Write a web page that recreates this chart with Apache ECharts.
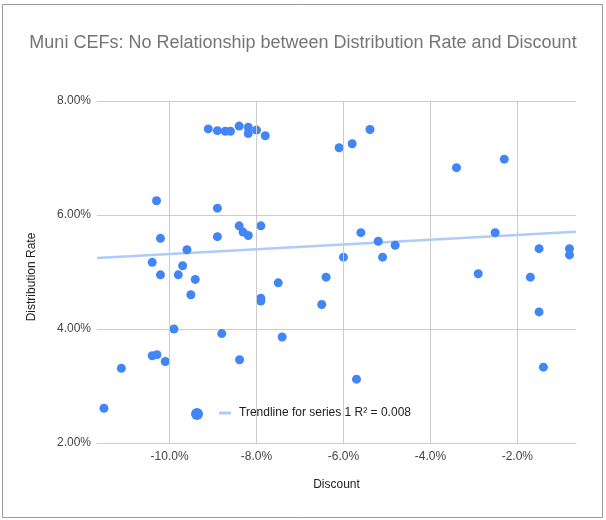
<!DOCTYPE html>
<html><head><meta charset="utf-8">
<script src="https://cdn.jsdelivr.net/npm/echarts@6/dist/echarts.min.js"></script>
<style>html,body{margin:0;padding:0;background:#fff}#c{width:606px;height:520px}</style>
</head><body><div id="c"></div>
<script>
// Discount (%), Distribution Rate (%)
const discount = [
  -9.11, -8.90, -8.72, -8.60, -8.40, -8.19, -8.19, -8.00, -7.80, -6.10, -5.80, -5.39, -3.40, -2.30,
  -10.30, -8.90, -8.40, -8.31, -8.19, -7.90, -10.21, -8.90, -9.60, -10.40, -9.70, -6.00, -5.60, -5.20,
  -4.81, -5.10, -2.51, -1.50, -0.80, -0.80,
  -10.21, -9.80, -9.41, -9.51, -7.50, -6.40, -7.90, -7.90, -6.50, -2.90, -1.70, -1.50, -9.90, -8.80,
  -7.41, -10.40, -10.29, -10.10, -11.11, -8.39, -1.40, -5.70, -11.51
];
const distRate = [
  7.51, 7.48, 7.47, 7.47, 7.56, 7.54, 7.43, 7.49, 7.39, 7.18, 7.25, 7.50, 6.83, 6.98,
  6.25, 6.12, 5.81, 5.70, 5.64, 5.81, 5.59, 5.62, 5.39, 5.17, 5.11, 5.26, 5.69, 5.54,
  5.47, 5.26, 5.69, 5.41, 5.41, 5.30,
  4.95, 4.95, 4.87, 4.60, 4.81, 4.91, 4.54, 4.49, 4.43, 4.97, 4.91, 4.30, 4.00, 3.92,
  3.86, 3.53, 3.55, 3.43, 3.31, 3.46, 3.33, 3.12, 2.61
];
const xTicks = [-10, -8, -6, -4, -2];
const yTicks = [2, 4, 6, 8];
const trendX = [-11.67, -0.65];
const trendY = [5.246, 5.707];
const titleText = 'Muni CEFs: No Relationship between Distribution Rate and Discount';
const xName = 'Discount';
const yName = 'Distribution Rate';
const seriesName = 'series 1';
const trendName = 'Trendline for series 1 R\u00B2 = 0.008';

const FONT = 'Arial, "Liberation Sans", sans-serif';
const chart = echarts.init(document.getElementById('c'), null, {renderer: 'canvas'});
const pts = discount.map((x, i) => [x, distRate[i]]);
const trend = trendX.map((x, i) => [x, trendY[i]]);

chart.setOption({
  animation: false,
  backgroundColor: '#fff',
  textStyle: {fontFamily: FONT},
  title: {
    text: titleText, left: 'center', top: 29,
    textStyle: {fontSize: 18, fontWeight: 'normal', color: '#757575', fontFamily: FONT}
  },
  graphic: [{
    type: 'rect', shape: {x: 2.5, y: 4.5, width: 600, height: 513},
    style: {fill: 'none', stroke: '#9a9a9a', lineWidth: 1}, silent: true, z: -1
  }],
  grid: {left: 97, right: 30, top: 101, bottom: 77, containLabel: false},
  xAxis: {
    type: 'value', min: -11.67, max: -0.65,
    name: xName, nameLocation: 'middle', nameGap: 36,
    nameTextStyle: {fontSize: 12, color: '#222', fontFamily: FONT},
    axisLine: {show: true, lineStyle: {color: '#ccc', width: 1}},
    axisTick: {show: false, customValues: xTicks},
    axisLabel: {customValues: xTicks, margin: 8, fontSize: 12, color: '#444', fontFamily: FONT,
      formatter: v => v.toFixed(1) + '%'},
    splitLine: {show: false}
  },
  yAxis: {
    type: 'value', min: 2, max: 8, interval: 2,
    name: yName, nameLocation: 'middle', nameGap: 59, nameRotate: 90,
    nameTextStyle: {fontSize: 12, color: '#222', fontFamily: FONT, padding: [0, 10, 0, 0]},
    axisLine: {show: false}, axisTick: {show: false},
    axisLabel: {margin: 6, fontSize: 12, color: '#444', fontFamily: FONT,
      formatter: v => v.toFixed(2) + '%'},
    splitLine: {show: true, lineStyle: {color: '#ccc', width: 1}}
  },
  legend: [{
    data: [seriesName], formatter: () => '', icon: 'circle', padding: 0,
    itemWidth: 12, itemHeight: 12, left: 191, top: 408,
    textStyle: {fontSize: 12}, selectedMode: false
  }, {
    data: [trendName], icon: 'rect', itemWidth: 12, itemHeight: 3, padding: 0,
    left: 219, top: 407, selectedMode: false,
    textStyle: {fontSize: 12, color: '#222', fontFamily: FONT, padding: [0, 0, 0, 3]}
  }],
  series: [{
    name: trendName, type: 'line', data: trend, showSymbol: false, symbol: 'none',
    itemStyle: {color: '#aecbfa'}, lineStyle: {color: '#aecbfa', width: 2.5}, z: 2, silent: true,
    markLine: {
      silent: true, symbol: 'none', label: {show: false},
      lineStyle: {color: '#ccc', width: 1, type: 'solid'},
      data: xTicks.map(v => ({xAxis: v}))
    }
  }, {
    name: seriesName, type: 'scatter', data: pts, symbolSize: 9,
    itemStyle: {color: '#4285f4', opacity: 1}, z: 3
  }]
});
</script>
</body></html>
